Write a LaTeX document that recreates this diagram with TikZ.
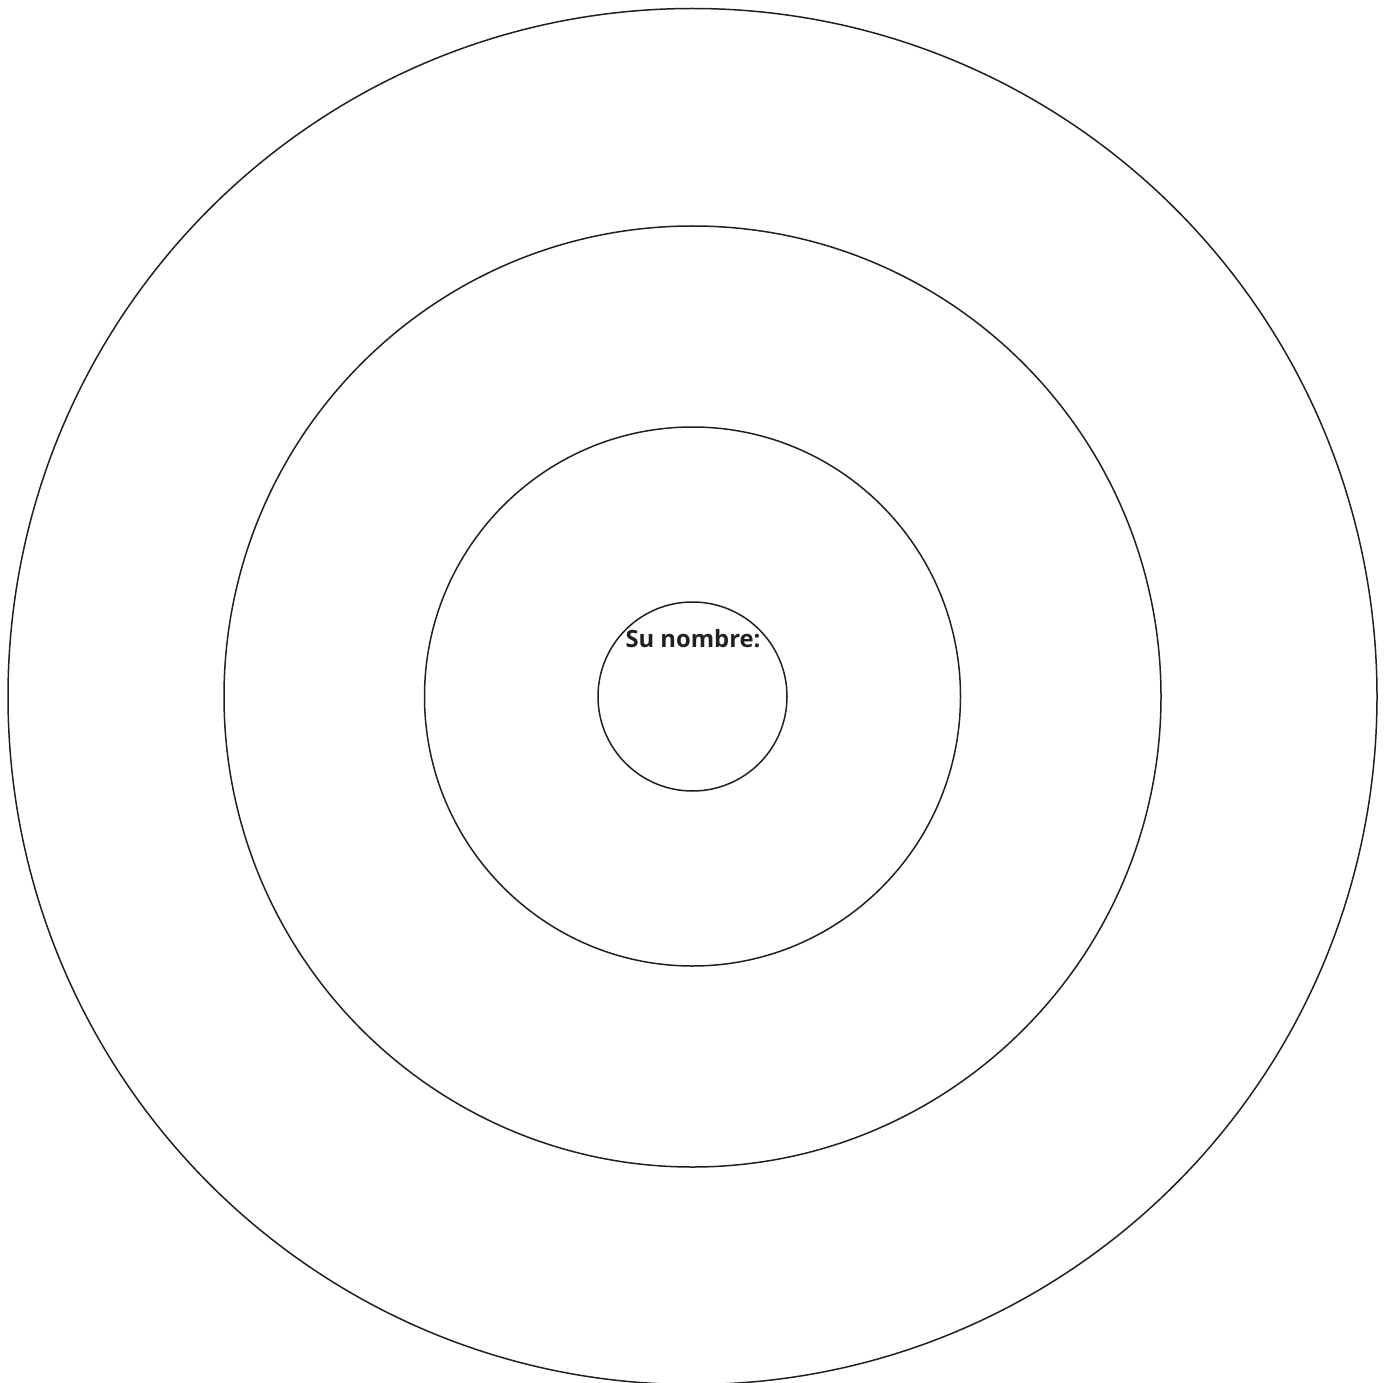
\documentclass[tikz,border=0pt]{standalone}
\usepackage{fontspec}
\setmainfont{Open Sans}
\definecolor{ink}{HTML}{231F20}
\begin{document}
\begin{tikzpicture}[x=1pt,y=-1pt,
  ring/.style={draw=ink,line width=1.5pt}]
\useasboundingbox (0,0) rectangle (1385,1383);
\coordinate (c) at (692.5,696.5);
\draw[ring] (c) ellipse [x radius=684.5, y radius=688];
\draw[ring] (c) ellipse [x radius=468.5, y radius=470.5];
\draw[ring] (c) ellipse [x radius=268, y radius=269.5];
\draw[ring] (c) ellipse [x radius=94.5, y radius=94.5];
\node[anchor=base, inner sep=0pt, text=ink, font=\bfseries\fontsize{23.8}{28}\selectfont] (lbl) at (693,647) {Su nombre:};
\end{tikzpicture}
\end{document}
